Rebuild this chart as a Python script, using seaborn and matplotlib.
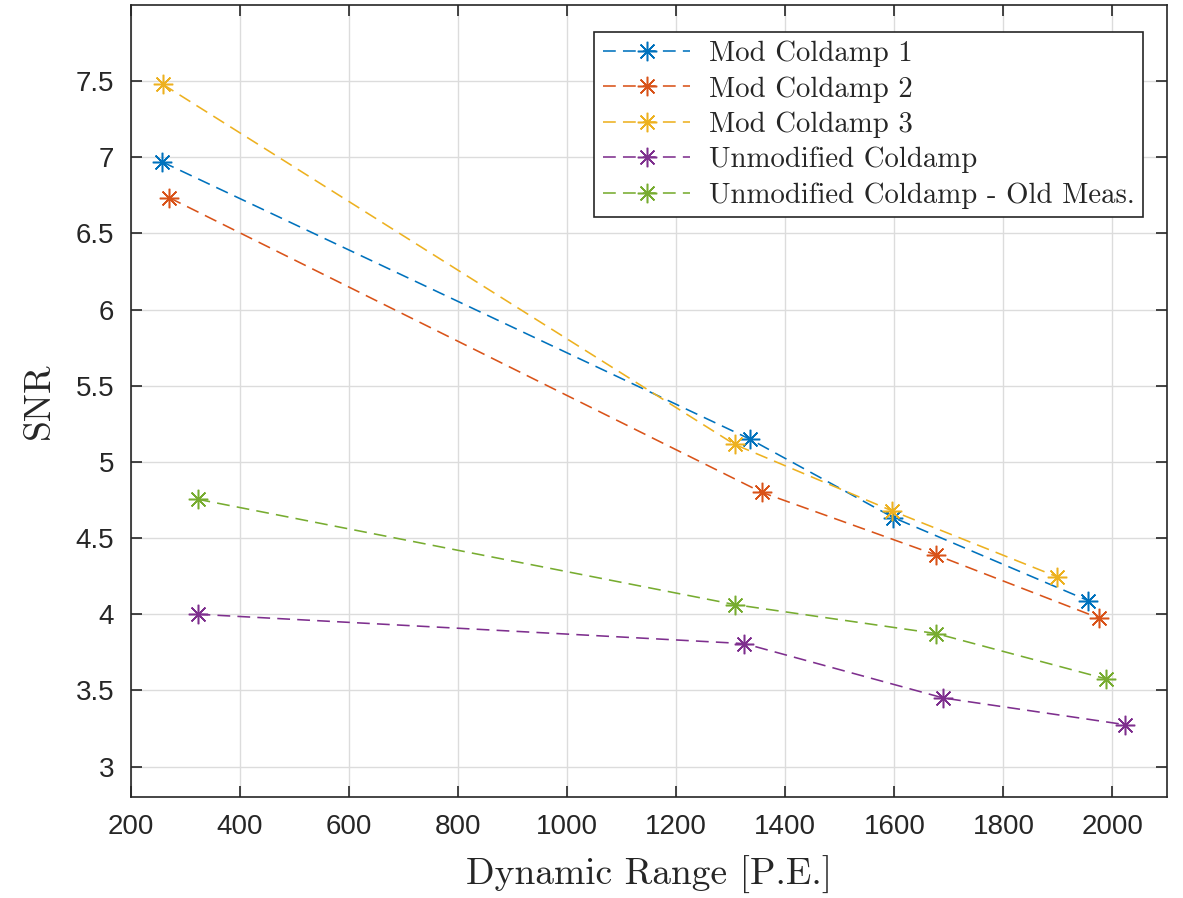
import numpy as np
import pandas as pd
import matplotlib
matplotlib.use("Agg")
import matplotlib.pyplot as plt
import seaborn as sns

series_names = ["Mod Coldamp 1", "Mod Coldamp 2", "Mod Coldamp 3",
                "Unmodified Coldamp", "Unmodified Coldamp - Old Meas."]
x_mod1 = [257, 1335, 1598, 1955]
y_mod1 = [6.97, 5.15, 4.635, 4.09]
x_mod2 = [270, 1357, 1676, 1975]
y_mod2 = [6.735, 4.80, 4.39, 3.975]
x_mod3 = [258, 1307, 1595, 1899]
y_mod3 = [7.48, 5.115, 4.68, 4.245]
x_unmod = [322, 1325, 1690, 2023]
y_unmod = [4.00, 3.807, 3.45, 3.275]
x_old = [322, 1308, 1677, 1989]
y_old = [4.755, 4.063, 3.873, 3.575]

colors = ["#0072BD", "#D95319", "#EDB120", "#7E2F8E", "#77AC30"]

xs = [x_mod1, x_mod2, x_mod3, x_unmod, x_old]
ys = [y_mod1, y_mod2, y_mod3, y_unmod, y_old]
frames = []
for name, xv, yv in zip(series_names, xs, ys):
    frames.append(pd.DataFrame({"x": xv, "y": yv, "series": name}))
df = pd.concat(frames, ignore_index=True)

sns.set_style("whitegrid")
plt.rcParams["font.family"] = ["Liberation Sans", "DejaVu Sans"]

fig = plt.figure(figsize=(11.83, 8.98), dpi=100)
ax = fig.add_axes([131/1183, 1 - 797/898, (1167-131)/1183, (797-5)/898])

asterisk = (8, 2, 0)
for name, c in zip(series_names, colors):
    sub = df[df["series"] == name]
    sns.lineplot(data=sub, x="x", y="y", ax=ax, color=c, label=name,
                 marker=asterisk, markersize=14, markeredgewidth=1.1,
                 markeredgecolor=c, linewidth=1.15, sort=False,
                 dashes=False, linestyle=(0, (8, 4.5)), estimator=None)

ax.set_xlim(200, 2100)
ax.set_ylim(2.8, 8.0)
ax.set_xticks(np.arange(200, 2001, 200))
ax.set_yticks(np.arange(3, 7.51, 0.5))
ax.set_yticklabels(["3", "3.5", "4", "4.5", "5", "5.5", "6", "6.5", "7", "7.5"])

ax.grid(True, color="#dcdcdc", linewidth=1.0)
for s in ax.spines.values():
    s.set_visible(True)
    s.set_color("#262626")
    s.set_linewidth(1.2)
ax.tick_params(axis="both", direction="in", length=8, width=1.2, color="#262626",
               labelsize=20, labelcolor="#262626", top=True, right=True,
               bottom=True, left=True, pad=12)

ax.set_xlabel("Dynamic Range [P.E.]", family="cmr10", fontsize=27, color="#262626", labelpad=12)
ax.set_ylabel("SNR", family="cmr10", fontsize=27, color="#262626", labelpad=14)

leg = ax.legend(loc="upper right", bbox_to_anchor=(0.9768, 0.9659), borderaxespad=0,
                prop={"family": "cmr10", "size": 20.7}, frameon=True, fancybox=False,
                edgecolor="#262626", handlelength=3.05, borderpad=0.3,
                labelspacing=0.31, handletextpad=0.63, framealpha=1)
leg.get_frame().set_linewidth(1.2)

fig.savefig("out.png", dpi=100)
